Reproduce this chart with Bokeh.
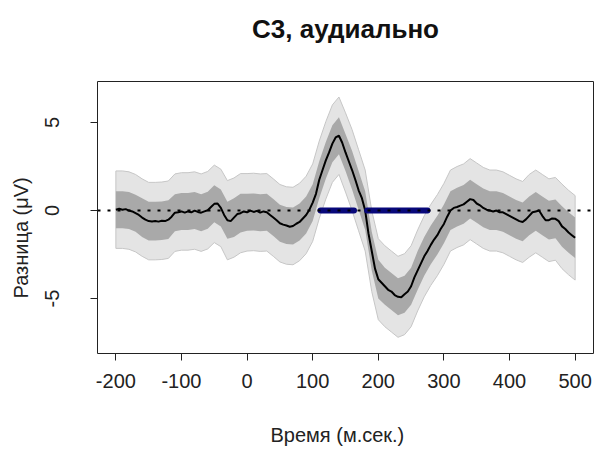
from bokeh.plotting import figure
from bokeh.models import Range1d, FixedTicker, Span, ColumnDataSource, Title
from bokeh.embed import file_html
from bokeh.resources import INLINE

# ---- data ----
time_ms = list(range(-200, 505, 5))
mean_uv = [0.05, 0.1, 0.05, 0.08, 0.0, -0.05, -0.15, -0.25, -0.4, -0.52,
           -0.6, -0.62, -0.6, -0.63, -0.58, -0.6, -0.52, -0.35, -0.12, -0.1,
           -0.05, -0.12, -0.05, -0.1, 0.0, -0.08, -0.12, -0.05, 0.02, 0.2,
           0.38, 0.4, 0.15, -0.25, -0.55, -0.6, -0.4, -0.2, -0.15, -0.05,
           -0.1, 0.0, -0.08, -0.02, -0.12, -0.05, -0.1, -0.25, -0.4, -0.55,
           -0.72, -0.8, -0.85, -0.92, -0.88, -0.75, -0.65, -0.45, -0.25, 0.05,
           0.45, 0.95, 1.75, 2.3, 2.85, 3.3, 3.8, 4.15, 4.25, 3.85,
           3.3, 2.8, 2.3, 1.75, 1.15, 0.7, 0.0, -1.3, -2.3, -3.3,
           -3.9, -4.1, -4.3, -4.5, -4.6, -4.8, -4.9, -4.92, -4.75, -4.6,
           -4.3, -3.8, -3.4, -3.0, -2.6, -2.3, -1.95, -1.65, -1.4, -1.05,
           -0.76, -0.35, 0.0, 0.15, 0.2, 0.28, 0.35, 0.5, 0.65, 0.6,
           0.4, 0.3, 0.15, 0.05, 0.0, -0.05, 0.0, -0.1, -0.1, -0.2,
           -0.3, -0.4, -0.5, -0.6, -0.65, -0.5, -0.3, -0.1, -0.05, 0.0,
           -0.3, -0.55, -0.55, -0.45, -0.47, -0.6, -0.9, -1.05, -1.25, -1.4,
           -1.55]
# band half-widths, every 10 ms (-200 .. 500)
inner_hw = [1.05, 1.05, 1.05, 1.05, 1.1, 1.1, 1.1, 1.1, 1.1, 1.05,
            1.05, 1.05, 1.05, 1.05, 1.05, 1.05, 1.05, 1.05, 1.1, 1.1,
            1.05, 1.05, 1.05, 1.05, 1.05, 1.05, 1.05, 1.05, 1.05, 1.05,
            1.05, 1.05, 1.05, 1.05, 1.05, 1.05, 1.1, 1.1, 1.1, 1.1,
            1.1, 1.05, 1.05, 1.05, 1.05, 1.05, 1.1, 1.1, 1.1, 1.1,
            1.1, 1.1, 1.1, 1.1, 1.1, 1.1, 1.1, 1.1, 1.1, 1.1,
            1.1, 1.1, 1.1, 1.1, 1.1, 1.1, 1.1, 1.1, 1.15, 1.15,
            1.15]
outer_hw = [2.2, 2.2, 2.2, 2.2, 2.2, 2.2, 2.2, 2.2, 2.2, 2.2,
            2.2, 2.2, 2.2, 2.2, 2.2, 2.2, 2.2, 2.25, 2.25, 2.25,
            2.2, 2.2, 2.2, 2.2, 2.2, 2.2, 2.2, 2.2, 2.2, 2.2,
            2.2, 2.2, 2.2, 2.2, 2.2, 2.25, 2.3, 2.3, 2.3, 2.3,
            2.3, 2.3, 2.3, 2.3, 2.3, 2.3, 2.3, 2.3, 2.3, 2.3,
            2.3, 2.3, 2.3, 2.3, 2.3, 2.3, 2.3, 2.3, 2.3, 2.3,
            2.3, 2.3, 2.3, 2.35, 2.35, 2.35, 2.35, 2.35, 2.4, 2.4,
            2.4]
sig_start_ms = [112, 183]
sig_end_ms = [163, 275]
x_ticks = [-200, -100, 0, 100, 200, 300, 400, 500]
y_ticks = [-5, 0, 5]
title_text = "C3, аудиально"
x_title = "Время (м.сек.)"
y_title = "Разница (μV)"

FONT = "Liberation Sans"

line_src = ColumnDataSource(dict(t=time_ms, m=mean_uv))
bt = time_ms[::2]
bm = mean_uv[::2]
band_src = ColumnDataSource(dict(
    t=bt,
    in_lo=[m - h for m, h in zip(bm, inner_hw)],
    in_hi=[m + h for m, h in zip(bm, inner_hw)],
    out_lo=[m - h for m, h in zip(bm, outer_hw)],
    out_hi=[m + h for m, h in zip(bm, outer_hw)],
))

p = figure(width=594, height=450, output_backend="svg", toolbar_location=None,
           x_range=Range1d(-228, 528), y_range=Range1d(-8.12, 7.33),
           min_border_left=97, min_border_right=1, min_border_top=81,
           min_border_bottom=97, title=None)

p.background_fill_color = "white"
p.border_fill_color = "white"
p.outline_line_color = "#222222"
p.outline_line_width = 1
p.grid.visible = False

# outer (light) band with thin darker edge
poly_x = bt + bt[::-1]
poly_y = band_src.data["out_hi"] + band_src.data["out_lo"][::-1]
p.patch(poly_x, poly_y, fill_color="#e4e4e4", line_color="#c6c6c6", line_width=1)
# inner (dark) band
p.varea(x="t", y1="in_lo", y2="in_hi", source=band_src, fill_color="#a9a9a9")

# mean curve
p.line(x="t", y="m", source=line_src, line_color="black", line_width=2)

# zero reference line (dotted), below the significance bars
p.add_layout(Span(location=0, dimension="width", line_color="black",
                  line_width=2, line_dash="3 7", level="glyph"))

# significance segments
p.segment(x0=sig_start_ms, y0=[0, 0], x1=sig_end_ms, y1=[0, 0],
          line_color="#08087a", line_width=6, line_cap="round")

# axes
for ax in (p.xaxis[0], p.yaxis[0]):
    ax.axis_line_color = None
    ax.major_tick_line_color = "#222222"
    ax.major_tick_out = 7
    ax.major_tick_in = 0
    ax.minor_tick_line_color = None
    ax.major_label_text_font = FONT
    ax.major_label_text_font_size = "20px"
    ax.major_label_text_color = "#222222"

p.xaxis.ticker = FixedTicker(ticks=x_ticks)
p.yaxis.ticker = FixedTicker(ticks=y_ticks)
p.xaxis.major_label_overrides = {v: str(v) for v in x_ticks}
p.yaxis.major_label_overrides = {v: str(v) for v in y_ticks}
p.yaxis.major_label_orientation = "vertical"
p.xaxis.major_label_standoff = 13
p.yaxis.major_label_standoff = 31

# main title: an empty spacer next to the frame, then the title above it
p.add_layout(Title(text=" ", text_font_size="1px", standoff=32), "above")
p.add_layout(Title(text=title_text, text_font=FONT, text_font_size="26px",
                   text_font_style="bold", text_color="#111111",
                   align="center", vertical_align="top", standoff=2), "above")

# x-axis title: spacer below the tick labels, then the title
p.add_layout(Title(text=" ", text_font_size="1px", standoff=28), "below")
p.add_layout(Title(text=x_title, text_font=FONT, text_font_size="20px",
                   text_font_style="normal", text_color="#222222",
                   align="left", offset=173, vertical_align="bottom",
                   standoff=0), "below")

# y-axis title, shifted along the axis like the reference
p.add_layout(Title(text=y_title, text_font=FONT, text_font_size="20px",
                   text_font_style="normal", text_color="#222222",
                   align="left", offset=55, vertical_align="top",
                   standoff=18), "left")

open("out.html", "w").write(file_html(p, INLINE))
